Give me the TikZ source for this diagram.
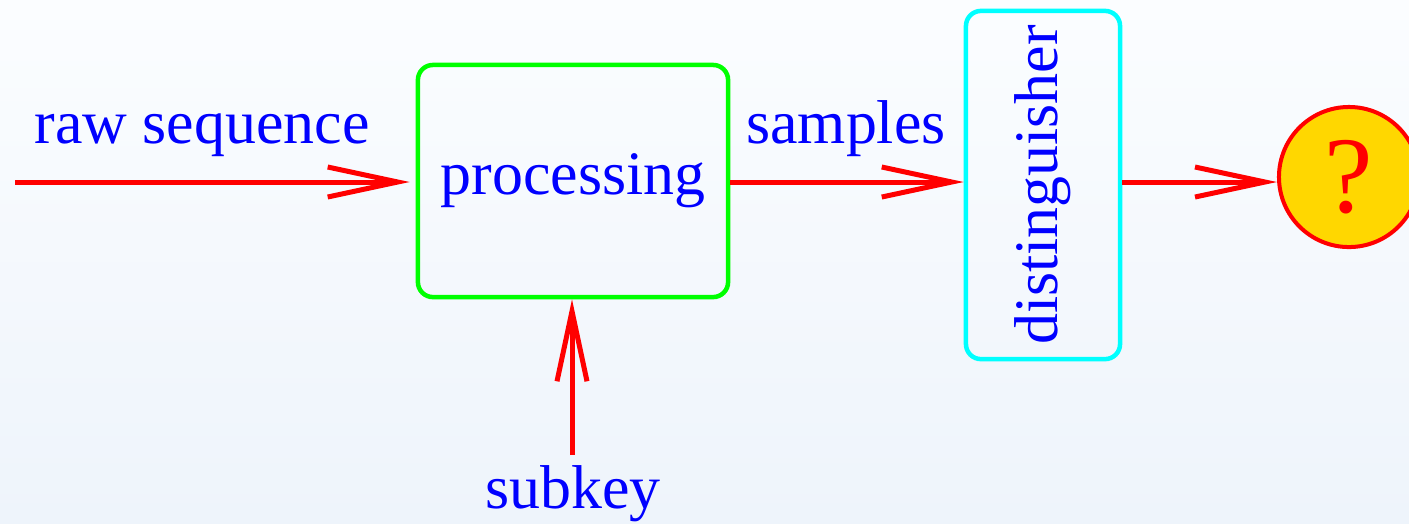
\documentclass[tikz,border=0pt]{standalone}
\usepackage{fontspec}
\setmainfont{Liberation Serif}
\usetikzlibrary{arrows.meta}
\definecolor{bgtop}{HTML}{FBFDFF}
\definecolor{bgbot}{HTML}{EEF4FB}
\definecolor{gold}{HTML}{FFD700}
\definecolor{boxcyan}{HTML}{00FFFF}
\definecolor{boxgreen}{HTML}{00FF00}
\begin{document}
\begin{tikzpicture}[x=0.01cm, y=-0.01cm,
  lbl/.style={text=blue, font=\fontsize{17.6}{20}\selectfont, inner sep=0pt},
  stage/.style={draw, line width=0.045cm, rounded corners=0.15cm, inner sep=0pt,
    text=blue, font=\fontsize{17.6}{20}\selectfont},
  flow/.style={draw=red, line width=0.05cm,
    -{Straight Barb[length=0.7cm, width=0.3cm, line width=0.05cm]}}]
  % background
  \shade[top color=bgtop, bottom color=bgbot] (0,0) rectangle (1409,523);
  \useasboundingbox (0,0) rectangle (1409,523);

  % blocks
  \node[stage, draw=boxgreen, minimum width=3.10cm, minimum height=2.32cm] (proc) at (573,181) {processing};
  \node[stage, draw=boxcyan, rotate=90, minimum width=3.48cm, minimum height=1.54cm] (dist) at (1043,185) {distinguisher};
  \node[circle, draw=red, fill=gold, line width=0.04cm, minimum size=1.40cm, inner sep=0pt,
        text=red, font=\fontsize{31}{34}\selectfont] (out) at (1349,177) {?};

  % labels
  \node[lbl, anchor=base] (raw) at (202,143) {raw sequence};
  \node[lbl, anchor=base] (smp) at (846,143) {samples};
  \node[lbl, anchor=base] (key) at (573,508) {subkey};

  % connectors
  \coordinate (rawstart) at (15,182);
  \coordinate (keystart) at (572,455);
  \draw[flow, shorten >=0.06cm] (rawstart) -- (rawstart -| proc.west);
  \draw[flow] (proc.east |- 0,182) -- (dist.north |- 0,182);
  \draw[flow] (dist.south |- 0,182) -- (out.west |- 0,182);
  \draw[flow] (keystart) -- (keystart |- proc.south);
\end{tikzpicture}
\end{document}
